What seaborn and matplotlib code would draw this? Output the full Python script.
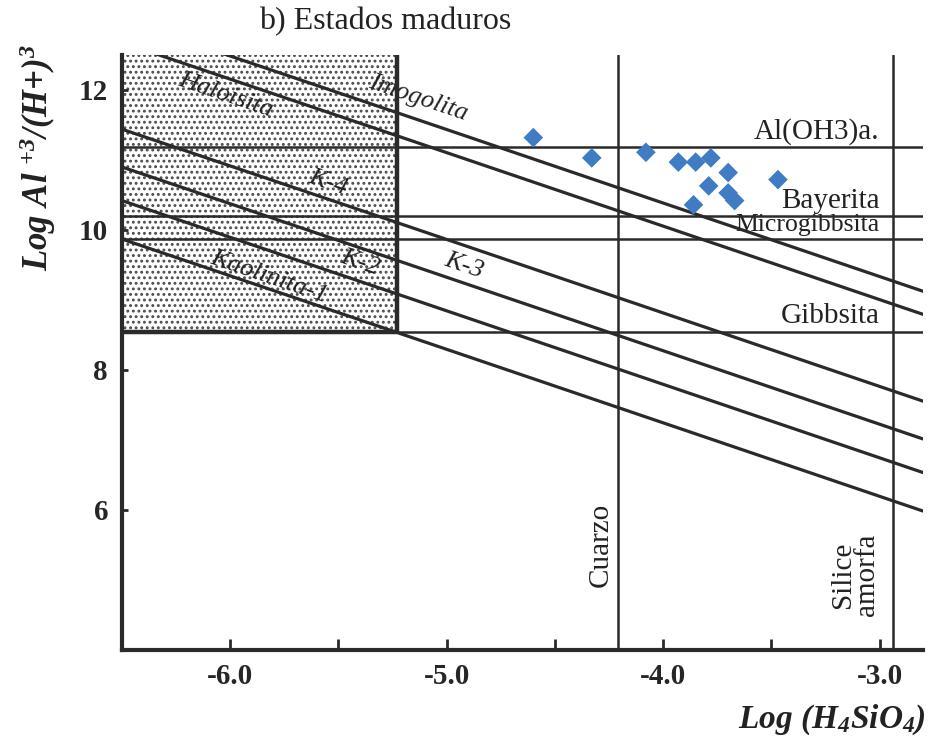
import numpy as np
import pandas as pd
import matplotlib
matplotlib.use("Agg")
import matplotlib.pyplot as plt
from matplotlib.patches import Rectangle
import seaborn as sns

# Water samples: log H4SiO4 against log Al+3/(H+)3
log_silica = [-4.60, -4.33, -4.08, -3.93, -3.85, -3.78, -3.70, -3.79, -3.70, -3.67, -3.86, -3.47]
log_al = [11.32, 11.03, 11.11, 10.97, 10.97, 11.03, 10.82, 10.63, 10.53, 10.42, 10.36, 10.72]

# Aluminosilicate stability lines, given by their value at log H4SiO4 = -6.5
silicate_names = ["Imogolita", "Haloisita", "K-4", "K-3", "K-2", "Kaolinita-1"]
silicate_levels = [13.01, 12.68, 11.44, 10.90, 10.42, 9.87]
silicate_slope = -1.05

# Aluminium hydroxide solubility levels
hydroxide_names = ["Al(OH3)a.", "Bayerita", "Microgibbsita", "Gibbsita"]
hydroxide_levels = [11.18, 10.20, 9.87, 8.55]

# Silica saturation
silica_names = ["Cuarzo", "Silice\namorfa"]
silica_levels = [-4.21, -2.94]

x_ticks = [-6.0, -5.0, -4.0, -3.0]
x_tick_labels = ["-6.0", "-5.0", "-4.0", "-3.0"]
x_minor_ticks = [-5.5, -4.5, -3.5]
y_ticks = [6, 8, 10, 12]
y_tick_labels = ["6", "8", "10", "12"]

X_MIN, X_MAX = -6.5, -2.8
Y_MIN, Y_MAX = 4.0, 12.5
BOX_X = -5.23

sns.set_style("ticks")
plt.rcParams["font.family"] = ["Liberation Serif", "DejaVu Serif"]
plt.rcParams["axes.unicode_minus"] = False
plt.rcParams["mathtext.fontset"] = "custom"
plt.rcParams["mathtext.rm"] = "Liberation Serif:bold:italic"
plt.rcParams["mathtext.it"] = "Liberation Serif:bold:italic"
plt.rcParams["mathtext.bf"] = "Liberation Serif:bold:italic"
plt.rcParams["hatch.linewidth"] = 1.3

INK = "#2a2a2a"
TEXT = "#222222"

fig = plt.figure(figsize=(9.3, 7.4), dpi=100)
ax = fig.add_axes([122 / 930, 1 - 650 / 740, (923 - 122) / 930, (650 - 55) / 740])
ax.set_xlim(X_MIN, X_MAX)
ax.set_ylim(Y_MIN, Y_MAX)

# dotted field of the metastable region
ax.add_patch(Rectangle((X_MIN, hydroxide_levels[-1]), BOX_X - X_MIN,
                       Y_MAX - hydroxide_levels[-1], facecolor="white",
                       edgecolor="#4a4a4a", hatch="...", linewidth=0, zorder=0))
ax.vlines(BOX_X, hydroxide_levels[-1], Y_MAX, color=INK, lw=3.2, zorder=3)
ax.hlines(hydroxide_levels[-1], X_MIN, BOX_X, color=INK, lw=3.2, zorder=3)

# hydroxide levels
hydroxide_sizes = [21, 21, 18.5, 21]
for name, level, size in zip(hydroxide_names, hydroxide_levels, hydroxide_sizes):
    ax.axhline(level, color=INK, lw=1.8, zorder=2)
    ax.text(-3.0, level + 0.12, name, ha="right", va="baseline",
            fontsize=size, color=TEXT, zorder=1)

# silica saturation
for level in silica_levels:
    ax.axvline(level, color=INK, lw=1.8, zorder=2)
ax.text(-4.29, 5.5, silica_names[0], rotation=90,
        ha="center", va="center", fontsize=21, color=TEXT)
ax.text(-3.115, 5.07, silica_names[1], rotation=90,
        ha="center", va="center", fontsize=21, color=TEXT,
        multialignment="center", linespacing=0.9)

# aluminosilicate lines
xs = np.array([X_MIN, X_MAX])
frames = []
for name, level in zip(silicate_names, silicate_levels):
    frames.append(pd.DataFrame({"x": xs, "y": level + silicate_slope * (xs - X_MIN),
                                "mineral": name}))
lines = pd.concat(frames, ignore_index=True)
sns.lineplot(data=lines, x="x", y="y", units="mineral", estimator=None,
             color=INK, lw=2.3, ax=ax, zorder=2)

p0 = ax.transData.transform((-6.0, 10.0))
p1 = ax.transData.transform((-5.0, 10.0 + silicate_slope))
angle = np.degrees(np.arctan2(p1[1] - p0[1], p1[0] - p0[0]))

label_spots = {
    "Imogolita": (-5.13, 11.88),
    "Haloisita": (-6.02, 11.93),
    "K-4": (-5.55, 10.67),
    "K-3": (-4.92, 9.49),
    "K-2": (-5.40, 9.53),
    "Kaolinita-1": (-5.82, 9.33),
}
for name in silicate_names:
    lx, ly = label_spots[name]
    ax.text(lx, ly, name, rotation=angle, rotation_mode="anchor",
            ha="center", va="center", fontsize=19, fontstyle="italic",
            color=TEXT, zorder=1)

# samples
sns.scatterplot(x=log_silica, y=log_al, marker="D", s=100, color="#3f7cc4",
                edgecolor="none", ax=ax, zorder=5)

# axes styling
ax.set_xlabel("")
ax.set_ylabel("")
for side in ("top", "right"):
    ax.spines[side].set_visible(False)
for side in ("left", "bottom"):
    ax.spines[side].set_linewidth(3.0)
    ax.spines[side].set_color(INK)
ax.set_xticks(x_ticks)
ax.set_xticklabels(x_tick_labels, fontweight="bold", fontsize=21)
ax.set_xticks(x_minor_ticks, minor=True)
ax.set_yticks(y_ticks)
ax.set_yticklabels(y_tick_labels, fontweight="bold", fontsize=21)
ax.tick_params(axis="x", which="both", direction="in", length=8, width=2,
               color=INK, pad=9)
ax.tick_params(axis="y", direction="in", length=4, width=2, color=INK, pad=10)

fig.text(385 / 930, 1 - 22 / 740, "b) Estados maduros", ha="center", va="center",
         fontsize=23, color=TEXT)
fig.text(38 / 930, 1 - 157 / 740, r"Log Al $^{+3}$/(H+)$^{3}$", rotation=90,
         ha="center", va="center", fontsize=25, fontweight="bold",
         fontstyle="italic", color=TEXT)
fig.text(926 / 930, 1 - 720 / 740, r"Log (H$_{4}$SiO$_{4}$)", ha="right",
         va="center", fontsize=24, fontweight="bold", fontstyle="italic",
         color=TEXT)

fig.savefig("out.png", dpi=100)
